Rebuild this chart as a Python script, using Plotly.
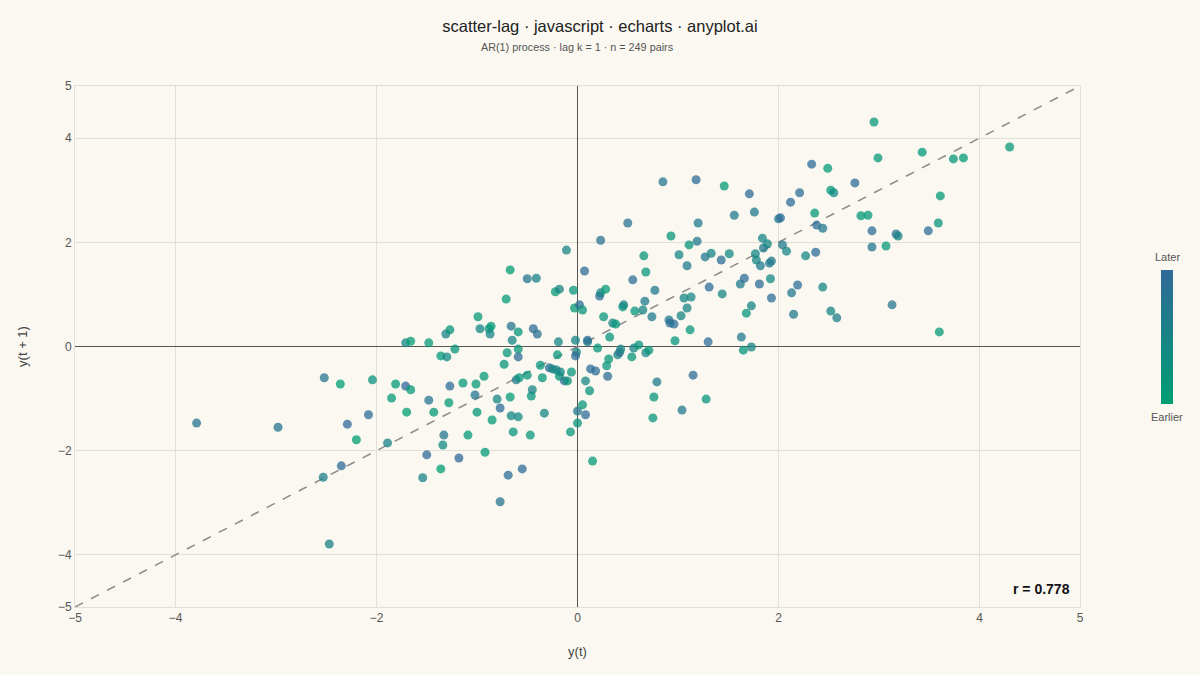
import plotly.graph_objects as go

# lag pairs: y(t), y(t+1) and relative time (0 = earlier, 1 = later)
y_t = [
    -3.79, -2.98, -2.53, -2.52, -2.47, -2.36, -2.35, -2.29, -2.20, -2.08,
    -2.04, -1.89, -1.85, -1.81, -1.71, -1.71, -1.66, -1.70, -1.66, -1.54,
    -1.50, -1.48, -1.48, -1.43, -1.36, -1.36, -1.34, -1.33, -1.31, -1.30,
    -1.27, -1.28, -1.27, -1.22, -1.18, -1.14, -1.09, -1.02, -1.01, -0.99,
    -1.00, -0.97, -0.93, -0.92, -0.88, -0.86, -0.87, -0.85, -0.80, -0.77,
    -0.77, -0.73, -0.71, -0.70, -0.69, -0.67, -0.67, -0.66, -0.66, -0.65,
    -0.64, -0.61, -0.59, -0.59, -0.59, -0.59, -0.58, -0.55, -0.50, -0.50,
    -0.47, -0.46, -0.45, -0.44, -0.41, -0.40, -0.37, -0.35, -0.33, -0.28,
    -0.25, -0.22, -0.21, -0.18, -0.20, -0.19, -0.18, -0.17, -0.13, -0.11,
    -0.10, -0.07, -0.06, -0.04, -0.03, -0.02, -0.01, -0.02, 0.00, 0.00,
    0.02, 0.05, 0.05, 0.07, 0.08, 0.08, 0.10, 0.10, 0.12, 0.13,
    0.15, 0.18, 0.20, 0.22, 0.23, 0.23, 0.26, 0.28, 0.29, 0.30,
    0.31, 0.32, 0.35, 0.38, 0.40, 0.42, 0.43, 0.45, 0.46, 0.50,
    0.54, 0.55, 0.56, 0.57, 0.61, 0.65, 0.66, 0.67, 0.68, 0.68,
    0.71, 0.74, 0.75, 0.76, 0.77, 0.79, 0.85, 0.91, 0.92, 0.93,
    0.96, 0.97, 1.01, 1.03, 1.04, 1.06, 1.09, 1.09, 1.11, 1.12,
    1.13, 1.15, 1.18, 1.19, 1.20, 1.27, 1.28, 1.30, 1.31, 1.33,
    1.43, 1.44, 1.46, 1.51, 1.56, 1.62, 1.63, 1.65, 1.66, 1.68,
    1.71, 1.73, 1.73, 1.76, 1.77, 1.78, 1.81, 1.82, 1.84, 1.85,
    1.89, 1.91, 1.93, 1.92, 1.93, 2.00, 2.02, 2.04, 2.08, 2.12,
    2.13, 2.15, 2.19, 2.21, 2.27, 2.33, 2.36, 2.37, 2.38, 2.44,
    2.44, 2.49, 2.52, 2.52, 2.55, 2.58, 2.76, 2.82, 2.89, 2.93,
    2.93, 2.95, 2.99, 3.07, 3.13, 3.17, 3.19, 3.43, 3.49, 3.59,
    3.60, 3.61, 3.74, 3.84, 4.30,
]
y_t1 = [
    -1.47, -1.55, -2.51, -0.60, -3.79, -0.72, -2.29, -1.49, -1.79, -1.31,
    -0.64, -1.85, -0.99, -0.72, -0.76, 0.07, 0.10, -1.26, -0.83, -2.52,
    -2.08, 0.07, -1.03, -1.26, -0.18, -2.35, -1.89, -1.70, 0.24, -0.20,
    0.32, -1.08, -0.76, -0.05, -2.14, -0.70, -1.70, -0.93, -0.72, 0.57,
    -1.26, 0.34, -0.57, -2.03, 0.34, 0.39, 0.24, -1.41, -1.01, -1.18,
    -2.98, -0.34, 0.91, -0.12, -2.47, 1.47, -0.97, -1.33, 0.39, 0.12,
    -1.64, -0.64, 0.28, -0.05, -0.20, -1.35, -0.60, -2.35, -0.55, 1.30,
    -1.70, -0.95, -0.83, 0.34, 1.31, 0.24, -0.36, -0.60, -1.28, -0.41,
    -0.43, 1.05, -0.45, 1.10, -0.16, 0.09, -0.57, -0.49, -0.66, 1.85,
    -0.66, -1.64, -0.49, 1.08, 0.74, 0.12, -0.11, -0.18, -1.24, -1.47,
    0.80, 0.70, -1.12, 1.45, -1.31, -0.66, 0.09, 0.12, -0.85, -0.43,
    -2.20, -0.47, -0.03, 0.97, 1.03, 2.04, 0.57, 1.10, -0.37, -0.57,
    -0.24, 0.18, 0.45, 0.43, -0.16, -0.11, -0.05, 0.76, 0.80, 2.37,
    -0.20, 1.28, -0.03, 0.68, 0.03, 0.70, 1.74, 0.87, 1.43, -0.12,
    -0.07, 0.57, -1.37, -0.97, 1.08, -0.68, 3.16, 0.51, 0.45, 2.12,
    0.43, 0.11, 1.76, 0.59, -1.22, 0.93, 0.74, 1.55, 1.95, 0.32,
    0.95, -0.55, 3.20, 2.02, 2.37, 1.72, -1.01, 0.09, 1.14, 1.79,
    1.66, 1.01, 3.08, 1.78, 2.52, 1.20, 0.18, -0.07, 1.31, 0.64,
    2.93, 0.78, -0.01, 2.58, 1.78, 1.66, 1.20, 1.55, 2.08, 1.89,
    1.97, 1.60, 1.64, 1.30, 0.93, 2.45, 2.47, 1.95, 1.83, 2.77,
    1.03, 0.62, 1.18, 2.95, 1.74, 3.50, 2.56, 1.81, 2.33, 1.14,
    2.27, 3.42, 3.00, 0.68, 2.95, 0.55, 3.14, 2.51, 2.52, 2.22,
    1.91, 4.31, 3.62, 1.93, 0.80, 2.16, 2.12, 3.73, 2.22, 2.37,
    0.28, 2.89, 3.60, 3.62, 3.83,
]
time_rank = [
    0.70, 0.70, 0.60, 0.70, 0.55, 0.20, 0.85, 0.85, 0.20, 0.80,
    0.35, 0.55, 0.25, 0.25, 0.85, 0.50, 0.25, 0.20, 0.25, 0.55,
    0.85, 0.25, 0.70, 0.25, 0.25, 0.20, 0.45, 0.70, 0.55, 0.45,
    0.30, 0.25, 0.80, 0.30, 0.85, 0.25, 0.25, 0.70, 0.25, 0.25,
    0.25, 0.50, 0.25, 0.25, 0.30, 0.25, 0.50, 0.25, 0.50, 0.80,
    0.70, 0.30, 0.25, 0.30, 0.80, 0.20, 0.25, 0.50, 0.70, 0.50,
    0.30, 0.65, 0.30, 0.30, 0.80, 0.45, 0.30, 0.80, 0.30, 0.70,
    0.30, 0.30, 0.50, 0.80, 0.55, 0.75, 0.30, 0.30, 0.50, 0.80,
    0.50, 0.25, 0.50, 0.50, 0.30, 0.50, 0.30, 0.50, 0.80, 0.50,
    0.30, 0.30, 0.30, 0.30, 0.25, 0.50, 0.50, 0.80, 0.65, 0.30,
    0.80, 0.30, 0.30, 0.80, 0.80, 0.50, 0.50, 0.80, 0.30, 0.80,
    0.25, 0.80, 0.30, 0.80, 0.50, 0.75, 0.30, 0.25, 0.30, 0.80,
    0.30, 0.30, 0.50, 0.30, 0.50, 0.80, 0.50, 0.30, 0.50, 0.75,
    0.30, 0.80, 0.50, 0.30, 0.30, 0.50, 0.30, 0.65, 0.30, 0.50,
    0.30, 0.65, 0.30, 0.30, 0.65, 0.65, 0.70, 0.65, 0.80, 0.30,
    0.80, 0.30, 0.50, 0.50, 0.65, 0.50, 0.50, 0.65, 0.30, 0.30,
    0.50, 0.80, 0.80, 0.65, 0.65, 0.65, 0.30, 0.80, 0.80, 0.50,
    0.80, 0.50, 0.25, 0.45, 0.65, 0.65, 0.65, 0.30, 0.80, 0.30,
    0.80, 0.50, 0.50, 0.65, 0.50, 0.50, 0.80, 0.65, 0.50, 0.65,
    0.50, 0.65, 0.65, 0.45, 0.80, 0.65, 0.80, 0.65, 0.50, 0.80,
    0.65, 0.65, 0.80, 0.80, 0.50, 0.80, 0.25, 0.80, 0.80, 0.50,
    0.65, 0.25, 0.25, 0.50, 0.45, 0.60, 0.80, 0.25, 0.25, 0.80,
    0.70, 0.25, 0.25, 0.25, 0.70, 0.70, 0.55, 0.25, 0.80, 0.30,
    0.25, 0.25, 0.25, 0.25, 0.25,
]

r_value = 0.778
n_pairs = 249
lag = 1

tick_vals = [-5, -4, -2, 0, 2, 4, 5]

font_family = "Liberation Sans, Arial, sans-serif"
bg = "#FAF8F1"

fig = go.Figure()

# y = x reference line
fig.add_trace(go.Scatter(
    x=[-5, 5], y=[-5, 5], mode="lines",
    line=dict(color="#8a8a8a", width=1.5, dash="dash"),
    hoverinfo="skip", showlegend=False,
))

fig.add_trace(go.Scatter(
    x=y_t, y=y_t1, mode="markers", showlegend=False,
    marker=dict(
        size=9, opacity=0.75,
        color=time_rank, cmin=0.2, cmax=0.85,
        colorscale=[[0, "#009E73"], [1, "#306998"]],
        line=dict(width=0),
        showscale=True,
        colorbar=dict(
            x=1.0806, xanchor="left", xpad=0,
            y=0.518, yanchor="middle", ypad=0,
            lenmode="pixels", len=134, thickness=12,
            outlinewidth=0, showticklabels=False, ticks="",
        ),
    ),
))

axis_style = dict(
    range=[-5, 5], tickvals=tick_vals,
    showgrid=True, gridcolor="#e2dfd8", gridwidth=1,
    zeroline=True, zerolinecolor="#555555", zerolinewidth=1,
    showline=True, linecolor="#e2dfd8", mirror=True,
    tickfont=dict(size=12, color="#555555"),
    ticks="", fixedrange=True,
)

fig.update_layout(
    width=1200, height=675,
    paper_bgcolor=bg, plot_bgcolor=bg,
    font=dict(family=font_family, color="#333333"),
    margin=dict(l=75, r=120, t=86, b=68),
    title=dict(
        text="scatter-lag · javascript · echarts · anyplot.ai",
        x=0.5, xanchor="center", y=0.961, yanchor="middle",
        font=dict(size=16.5, color="#222222"),
    ),
    xaxis=dict(axis_style, title=dict(text="y(t)", font=dict(size=13, color="#444444"), standoff=22)),
    yaxis=dict(axis_style, title=dict(text="y(t + 1)", font=dict(size=13, color="#444444"), standoff=27)),
    annotations=[
        dict(text=f"AR(1) process · lag k = {lag} · n = {n_pairs} pairs",
             xref="paper", yref="paper", x=0.5, y=1.0, yshift=39,
             xanchor="center", yanchor="middle", showarrow=False,
             font=dict(size=10.8, color="#555555")),
        dict(text=f"<b>r = {r_value:.3f}</b>", xref="paper", yref="paper",
             x=1.0, xshift=-8, y=0.035, xanchor="right", yanchor="middle",
             showarrow=False, font=dict(size=14, color="#111111")),
        dict(text="Later", xref="paper", yref="paper", x=1.0866, y=0.518,
             yshift=80, xanchor="center", yanchor="middle", showarrow=False,
             font=dict(size=11, color="#555555")),
        dict(text="Earlier", xref="paper", yref="paper", x=1.0866, y=0.518,
             yshift=-80, xanchor="center", yanchor="middle", showarrow=False,
             font=dict(size=11, color="#555555")),
    ],
)

fig.write_html("out.html", config={"displayModeBar": False},
               post_script="document.body.style.margin='0';")
